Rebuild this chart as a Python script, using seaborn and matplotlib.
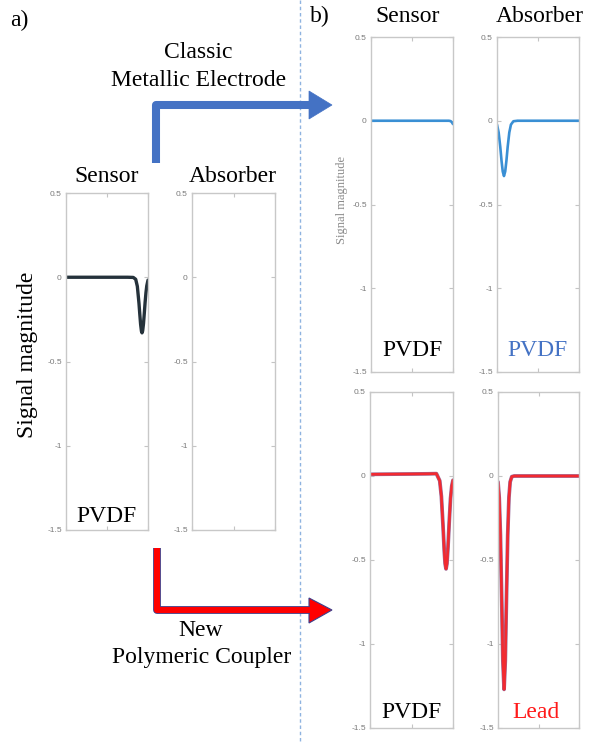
import matplotlib
matplotlib.use("Agg")
import matplotlib.pyplot as plt
import matplotlib.patheffects as pe
from matplotlib.patches import Polygon
import seaborn as sns

sns.set_style("white")
plt.rcParams["font.family"] = ["Liberation Serif", "DejaVu Serif"]
plt.rcParams["axes.unicode_minus"] = False

# ---- data (x = normalised time, y = signal) ----
y_ticks = [-1.5, -1.0, -0.5, 0.0, 0.5]
y_tick_labels = ["-1.5", "-1", "-0.5", "0", "0.5"]

# a) Sensor, PVDF
a_sensor_x = [0, 0.25, 0.5, 0.75, 0.82, 0.85, 0.87, 0.89, 0.90, 0.91, 0.92, 0.927,
              0.935, 0.945, 0.955, 0.965, 0.975, 0.985, 1.0]
a_sensor_y = [0, 0, 0, 0, -0.001, -0.012, -0.054, -0.155, -0.22, -0.28, -0.32, -0.33,
              -0.318, -0.276, -0.213, -0.147, -0.092, -0.051, -0.017]

# b) classic metallic electrode
b_top_sensor_x = [0, 0.25, 0.5, 0.75, 0.9, 0.95, 0.97, 0.985, 1.0]
b_top_sensor_y = [0, 0, 0, 0, 0, 0, -0.002, -0.008, -0.02]
b_top_absorber_x = [0, 0.02, 0.04, 0.055, 0.07, 0.085, 0.10, 0.115, 0.13, 0.15, 0.17,
                    0.2, 0.25, 0.5, 0.75, 1.0]
b_top_absorber_y = [-0.023, -0.07, -0.157, -0.238, -0.303, -0.33, -0.303, -0.238, -0.157,
                    -0.07, -0.023, -0.003, 0, 0, 0, 0]

# b) new polymeric coupler
b_bot_sensor_x = [0, 0.25, 0.5, 0.7, 0.8, 0.84, 0.86, 0.88, 0.895, 0.905, 0.916, 0.927,
                  0.94, 0.955, 0.97, 0.985, 1.0]
b_bot_sensor_y = [0.01, 0.011, 0.012, 0.013, 0.014, -0.028, -0.121, -0.30, -0.449, -0.522,
                  -0.553, -0.522, -0.421, -0.269, -0.135, -0.06, -0.025]
b_bot_absorber_x = [0, 0.015, 0.03, 0.045, 0.06, 0.075, 0.09, 0.105, 0.12, 0.135, 0.15,
                    0.17, 0.2, 0.25, 0.5, 0.75, 1.0]
b_bot_absorber_y = [-0.035, -0.128, -0.35, -0.716, -1.10, -1.27, -1.10, -0.716, -0.35,
                    -0.128, -0.035, -0.004, 0, 0, 0, 0, 0]

W, H = 595, 742
fig = plt.figure(figsize=(W / 100, H / 100), dpi=100)


def make_ax(x0, x1, y0, y1):
    # pixel box -> figure fraction
    ax = fig.add_axes([x0 / W, 1 - y1 / H, (x1 - x0) / W, (y1 - y0) / H])
    ax.set_xlim(0, 1)
    ax.set_ylim(-1.5, 0.5)
    ax.set_xticks([0, 0.5, 1])
    ax.set_xticklabels([])
    ax.set_yticks(y_ticks)
    ax.set_yticklabels(y_tick_labels, family=["Liberation Sans", "DejaVu Sans"])
    ax.tick_params(direction="in", length=3, width=0.8, color="#c4c4c4",
                   labelsize=6, labelcolor="#7a7a7a", pad=3,
                   right=True, top=True, bottom=True, left=True)
    for s in ax.spines.values():
        s.set_visible(True)
        s.set_color("#c8c8c8")
        s.set_linewidth(1.0)
    ax.set_facecolor("white")
    return ax


ax_a_sen = make_ax(66, 148, 193, 530)
ax_a_abs = make_ax(192, 275, 193, 530)
ax_bt_sen = make_ax(371, 453, 37, 372)
ax_bt_abs = make_ax(497, 579, 37, 372)
ax_bb_sen = make_ax(370, 453, 392, 728)
ax_bb_abs = make_ax(498, 579, 392, 728)

sns.lineplot(x=a_sensor_x, y=a_sensor_y, ax=ax_a_sen, color="#25323b", linewidth=2.4)

blue_line = "#3a8fd4"
sns.lineplot(x=b_top_sensor_x, y=b_top_sensor_y, ax=ax_bt_sen, color=blue_line, linewidth=1.9)
sns.lineplot(x=b_top_absorber_x, y=b_top_absorber_y, ax=ax_bt_abs, color=blue_line, linewidth=1.9)

# red trace with a thin darker rim, as in the source
outline = [pe.Stroke(linewidth=2.7, foreground="#9a6a98"), pe.Normal()]
for ax, xs, ys in [(ax_bb_sen, b_bot_sensor_x, b_bot_sensor_y),
                   (ax_bb_abs, b_bot_absorber_x, b_bot_absorber_y)]:
    sns.lineplot(x=xs, y=ys, ax=ax, color="#f22a30", linewidth=1.9)
    ax.lines[-1].set_path_effects(outline)

for ax in [ax_a_sen, ax_a_abs, ax_bt_sen, ax_bt_abs, ax_bb_sen, ax_bb_abs]:
    ax.set_xlim(0, 1)
    ax.set_ylim(-1.5, 0.5)
    ax.set_xlabel("")
    ax.set_ylabel("")

# ---- overlay in pixel coordinates: labels, arrows, divider ----
ov = fig.add_axes([0, 0, 1, 1], zorder=10)
ov.set_xlim(0, W)
ov.set_ylim(H, 0)
ov.axis("off")
ov.patch.set_visible(False)

BIG = 17
txt = dict(ha="center", va="center", fontsize=BIG, color="black")
ov.text(19, 20, "a)", **txt)
ov.text(320, 16, "b)", **txt)
ov.text(107, 177, "Sensor", **txt)
ov.text(233, 177, "Absorber", **txt)
ov.text(408, 16, "Sensor", **txt)
ov.text(540, 16, "Absorber", **txt)
ov.text(106, 517, "PVDF", **txt)
ov.text(412, 350, "PVDF", **txt)
ov.text(537, 350, "PVDF", **{**txt, "color": "#4472c4"})
ov.text(411, 712, "PVDF", **txt)
ov.text(536, 712, "Lead", **{**txt, "color": "#ff1a1a"})
ov.text(198, 52, "Classic", **txt)
ov.text(199, 80, "Metallic Electrode", **txt)
ov.text(201, 630, "New", **txt)
ov.text(202, 657, "Polymeric Coupler", **txt)
ov.text(28, 355, "Signal magnitude", rotation=90, **txt)
ov.text(342, 200, "Signal magnitude", rotation=90, ha="center", va="center",
        fontsize=9, color="#8a8a8a")

# dashed divider
ov.plot([300, 300], [0, H], color="#8fb3e0", linewidth=1.0, linestyle=(0, (2.5, 2)))

# blue arrow (classic metallic electrode)
blue = "#4472c4"
ov.plot([156, 156, 310], [163, 105, 105], color=blue, linewidth=5.8,
        solid_joinstyle="round", solid_capstyle="butt")
ov.add_patch(Polygon([(309, 91), (332, 105), (309, 119)], closed=True,
                     facecolor=blue, edgecolor=blue, linewidth=0.5))

# red arrow (new polymeric coupler)
red = "#ff0000"
ov.plot([157, 157, 310], [548, 610, 610], color=red, linewidth=4.4,
        solid_joinstyle="round", solid_capstyle="butt",
        path_effects=[pe.Stroke(linewidth=5.6, foreground="#3b3f8c"), pe.Normal()])
ov.add_patch(Polygon([(309, 598), (332, 610), (309, 623)], closed=True,
                     facecolor=red, edgecolor="#3b3f8c", linewidth=0.8))

fig.savefig("out.png", dpi=100, facecolor="white")
